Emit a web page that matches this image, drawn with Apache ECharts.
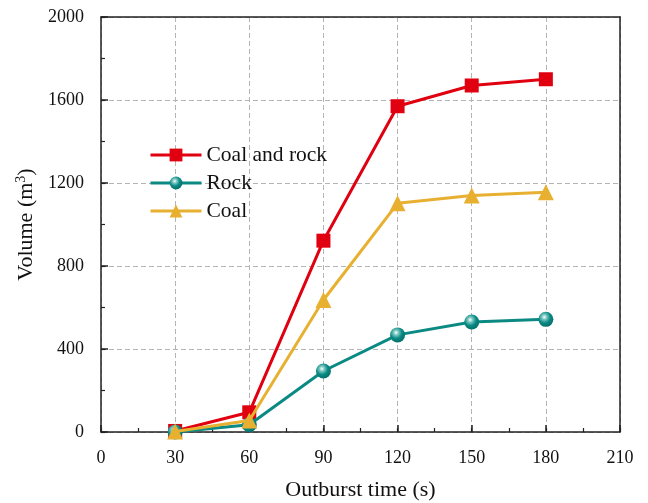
<!DOCTYPE html>
<html>
<head>
<meta charset="utf-8">
<script src="https://cdn.jsdelivr.net/npm/echarts@6/dist/echarts.min.js"></script>
<style>
  html, body { margin: 0; padding: 0; background: #fff; }
  #chart { width: 648px; height: 503px; }
</style>
</head>
<body>
<div id="chart"></div>
<script>
// Outburst time (s)
var times = [30, 60, 90, 120, 150, 180];
// Volume (m3) per material
var coalAndRock = [5, 95, 922, 1570, 1670, 1700];
var rock = [0, 35, 294, 468, 530, 543];
var coal = [2, 55, 636, 1102, 1140, 1155];
var seriesNames = ['Coal and rock', 'Rock', 'Coal'];

var FONT = '"Liberation Serif", "Times New Roman", serif';

function pairs(vals) {
  return times.map(function (t, i) { return [t, vals[i]]; });
}

var sphere = {
  type: 'radial', x: 0.4, y: 0.35, r: 0.65,
  colorStops: [
    { offset: 0, color: '#ffffff' },
    { offset: 0.25, color: '#7cc7c2' },
    { offset: 0.6, color: '#0b8a84' },
    { offset: 1, color: '#05706b' }
  ]
};

var chart = echarts.init(document.getElementById('chart'), null, { renderer: 'canvas' });

var darkLine = { color: '#222', width: 1.5 };
var splitLine = { show: true, lineStyle: { color: '#b4b4b4', type: [5, 3], width: 1 } };
var hidden = { show: false };

// helper axis that only draws short inward ticks between the main ones
function minorAxis(base) {
  return Object.assign({
    type: 'value', axisLine: { show: false, onZero: false },
    axisTick: { show: true, inside: true, length: 4, lineStyle: { color: '#222', width: 1.2 } },
    axisLabel: hidden, splitLine: hidden
  }, base);
}

chart.setOption({
  animation: false,
  backgroundColor: '#fff',
  grid: { left: 101, right: 28, top: 17, bottom: 71, containLabel: false, outerBoundsMode: 'none' },
  legend: {
    left: 144, top: 139, orient: 'vertical',
    itemWidth: 51, itemHeight: 16, itemGap: 6,
    lineStyle: { width: 3 },
    textStyle: { fontFamily: FONT, fontSize: 21.5, color: '#111' },
    data: seriesNames
  },
  xAxis: [{
    type: 'value', min: 0, max: 210, interval: 30,
    name: 'Outburst time (s)', nameLocation: 'middle', nameGap: 47,
    nameTextStyle: { fontFamily: FONT, fontSize: 22, color: '#111' },
    axisLine: { show: true, onZero: false, lineStyle: darkLine },
    axisTick: { show: true, inside: true, length: 7, lineStyle: darkLine },
    axisLabel: { fontFamily: FONT, fontSize: 18, color: '#111', margin: 17 },
    splitLine: splitLine
  }, {
    type: 'value', min: 0, max: 210, position: 'top',
    axisLine: { show: true, onZero: false, lineStyle: darkLine },
    axisTick: hidden, axisLabel: hidden, splitLine: hidden
  }, minorAxis({ min: 0, max: 210, interval: 15, position: 'bottom' })],
  yAxis: [{
    type: 'value', min: 0, max: 2000, interval: 400,
    name: 'Volume (m{sup|3})', nameLocation: 'middle', nameGap: 63,
    nameTextStyle: {
      fontFamily: FONT, fontSize: 22, color: '#111',
      rich: { sup: { fontFamily: FONT, fontSize: 14, color: '#111', verticalAlign: 'top', padding: [0, 0, 10, 0] } }
    },
    axisLine: { show: true, onZero: false, lineStyle: darkLine },
    axisTick: { show: true, inside: true, length: 7, lineStyle: darkLine },
    axisLabel: { fontFamily: FONT, fontSize: 18, color: '#111', margin: 17,
      formatter: function (v) { return String(v); } },
    splitLine: splitLine
  }, {
    type: 'value', min: 0, max: 2000, position: 'right',
    axisLine: { show: true, onZero: false, lineStyle: darkLine },
    axisTick: hidden, axisLabel: hidden, splitLine: hidden
  }, minorAxis({ min: 0, max: 2000, interval: 200, position: 'left' })],
  series: [{
    name: seriesNames[0], type: 'line', data: pairs(coalAndRock),
    symbol: 'rect', symbolSize: 14, z: 3,
    lineStyle: { color: '#e0000f', width: 3 },
    itemStyle: { color: '#e0000f' }
  }, {
    name: seriesNames[1], type: 'line', data: pairs(rock),
    symbol: 'circle', symbolSize: 15, z: 4,
    lineStyle: { color: '#0b8a84', width: 3 },
    itemStyle: { color: sphere }
  }, {
    name: seriesNames[2], type: 'line', data: pairs(coal),
    symbol: 'triangle', symbolSize: 16, z: 5,
    lineStyle: { color: '#e8b030', width: 3 },
    itemStyle: { color: '#e8b030' }
  }]
});
</script>
</body>
</html>
